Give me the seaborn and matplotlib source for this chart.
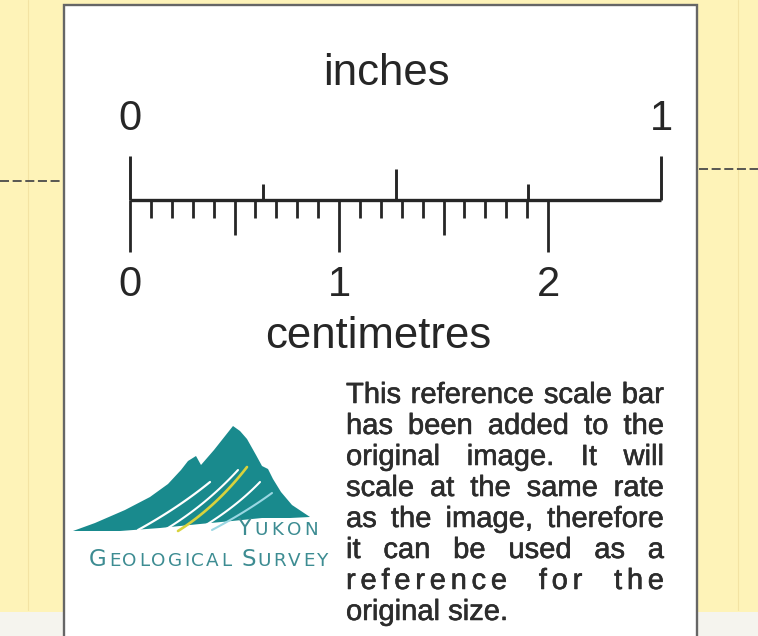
import numpy as np
import pandas as pd
import matplotlib
matplotlib.use("Agg")
import matplotlib.pyplot as plt
import matplotlib.patheffects as pe
import seaborn as sns
from matplotlib.patches import Rectangle, Polygon

# ---------------- data ----------------
CM_PER_INCH = 2.54
INCH_TICKS = [0.0, 0.25, 0.5, 0.75, 1.0]
INCH_LEVELS = ["end", "quarter", "half", "quarter", "end"]
INCH_LABEL_POS = [0, 1]
INCH_LABELS = ["0", "1"]
MM_TICKS = [0.0, 0.1, 0.2, 0.3, 0.4, 0.5, 0.6, 0.7, 0.8, 0.9, 1.0,
            1.1, 1.2, 1.3, 1.4, 1.5, 1.6, 1.7, 1.8, 1.9, 2.0]
CM_LABEL_POS = [0, 1, 2]
CM_LABELS = ["0", "1", "2"]
UNIT_TOP = "inches"
UNIT_BOTTOM = "centimetres"
NOTE_LINES = [
    "This reference scale bar",
    "has been added to the",
    "original image. It will",
    "scale at the same rate",
    "as the image, therefore",
    "it can be used as a",
    "reference for the",
    "original size.",
]
NOTE_MODES = ["word", "word", "word", "word", "word", "word", "char", "last"]
LOGO_LINE1 = "Yukon"
LOGO_LINE2 = "Geological Survey"

# ---------------- style ----------------
W, H = 758, 636
YELLOW = "#FEF3B8"
INK = "#262626"
TEAL = "#198a8d"
TEAL_TXT = "#3d8c92"
UP = {"end": 44, "half": 31, "quarter": 16}


def mm_level(v):
    if abs(v - round(v)) < 1e-6:
        return -52
    if abs(v * 2 - round(v * 2)) < 1e-6:
        return -35
    return -18


sns.set_theme(style="white")
plt.rcParams["font.family"] = ["Liberation Sans", "DejaVu Sans"]

fig = plt.figure(figsize=(W / 100, H / 100), dpi=100)
fig.patch.set_facecolor(YELLOW)
bg = fig.add_axes([0, 0, 1, 1])
bg.set_xlim(0, W)
bg.set_ylim(H, 0)
bg.axis("off")

# paper texture / bottom strip
bg.add_patch(Rectangle((0, 612), W, 40, facecolor="#F5F4EE", edgecolor="none"))
for xx in [28, 738]:
    bg.plot([xx, xx], [0, 610], color="#E6D08A", lw=0.8, alpha=0.45)
# cut marks
bg.plot([0, 62], [181, 181], color="#4a4a4a", lw=1.3, ls=(0, (5, 2)))
bg.plot([699, 758], [169, 169], color="#4a4a4a", lw=1.3, ls=(0, (5, 2)))
# white card
bg.add_patch(Rectangle((64, 5), 633, 660, facecolor="white",
                       edgecolor="#666666", lw=1.7))

# ---------------- scale bar axes (x in cm) ----------------
X0, X1 = 130, 661
ax = fig.add_axes([X0 / W, (H - 260) / H, (X1 - X0) / W, 110 / H])
ax.set_xlim(0, CM_PER_INCH)
ax.set_ylim(-60, 50)
ax.axis("off")

line_df = pd.DataFrame({"cm": [INCH_TICKS[0] * CM_PER_INCH, INCH_TICKS[-1] * CM_PER_INCH],
                        "y": [0, 0]})
sns.lineplot(data=line_df, x="cm", y="y", ax=ax, color=INK, lw=2.4,
             solid_capstyle="butt", clip_on=False)

inch_cm = [t * CM_PER_INCH for t in INCH_TICKS]
ax.vlines(inch_cm, 0, [UP[l] for l in INCH_LEVELS], color=INK, lw=2.1, clip_on=False)
ax.vlines(MM_TICKS, [mm_level(v) for v in MM_TICKS], 0, color=INK, lw=2.0, clip_on=False)

for p, lab in zip(INCH_LABEL_POS, INCH_LABELS):
    ax.text(p * CM_PER_INCH, 70, lab, ha="center", va="baseline", fontsize=30, color=INK)
for p, lab in zip(CM_LABEL_POS, CM_LABELS):
    ax.text(p, -96, lab, ha="center", va="baseline", fontsize=30, color=INK)

bg.text(386, 85, UNIT_TOP, ha="center", va="baseline", fontsize=31.5, color=INK)
bg.text(378, 348, UNIT_BOTTOM, ha="center", va="baseline", fontsize=31.5, color=INK)

# ---------------- helpers ----------------
renderer = fig.canvas.get_renderer()


def twidth(s, **kw):
    t = bg.text(0, 0, s, **kw)
    w = t.get_window_extent(renderer=renderer).width
    t.remove()
    return w


# ---------------- justified note ----------------
NL, NR = 346, 664
FS = 21
NOTE_COLOR = "#2c2c2c"
NOTE_KW = dict(fontsize=FS, color=NOTE_COLOR, va="baseline", ha="left",
               path_effects=[pe.withStroke(linewidth=0.4, foreground=NOTE_COLOR)])
base0, lead = 403, 31
space_w = twidth("a a", fontsize=FS) - 2 * twidth("a", fontsize=FS)
for i, (line, mode) in enumerate(zip(NOTE_LINES, NOTE_MODES)):
    y = base0 + lead * i
    if mode == "last":
        bg.text(NL, y, line, **NOTE_KW)
    elif mode == "word":
        words = line.split(" ")
        ws = [twidth(w_, fontsize=FS) for w_ in words]
        gap = (NR - NL - sum(ws)) / (len(words) - 1)
        x = NL
        for w_, wd in zip(words, ws):
            bg.text(x, y, w_, **NOTE_KW)
            x += wd + gap
    else:  # letter-spaced
        words = line.split(" ")
        chars = []
        for wi, w_ in enumerate(words):
            for ci, c in enumerate(w_):
                chars.append((c, ci == 0 and wi > 0))
        cw = [twidth(c, fontsize=FS) for c, _ in chars]
        nb = sum(1 for _, b in chars if b)
        ng = len(chars) - 1
        g = (NR - NL - sum(cw) - nb * space_w) / (ng + 4 * nb)
        x = NL
        for (c, b), wd in zip(chars, cw):
            if b:
                x += space_w + 4 * g
            bg.text(x, y, c, **NOTE_KW)
            x += wd + g

# ---------------- logo ----------------
upper = [(73, 531), (95, 523), (125, 510), (150, 497), (168, 484), (181, 470),
         (188, 461), (196, 456), (201, 465), (214, 450), (233, 426), (240, 431), (247, 439),
         (256, 455), (262, 466), (268, 469), (273, 479), (281, 492), (292, 505), (310, 517)]
lower = [(290, 518), (262, 518), (232, 521), (200, 524), (160, 528), (120, 531)]
bg.add_patch(Polygon(upper + lower, closed=True, facecolor=TEAL, edgecolor="none"))


def bez(p0, p1, p2, n=30):
    t = np.linspace(0, 1, n)[:, None]
    p0, p1, p2 = map(np.array, (p0, p1, p2))
    return (1 - t) ** 2 * p0 + 2 * (1 - t) * t * p1 + t ** 2 * p2


streaks = [((138, 530), (178, 508), (210, 482), "white", 1.6),
           ((163, 531), (205, 506), (238, 470), "white", 1.5),
           ((178, 531), (216, 507), (247, 467), "#d8d23c", 1.9),
           ((196, 531), (234, 509), (260, 482), "white", 1.5),
           ((212, 530), (246, 512), (272, 493), "#9ad7e3", 1.5)]
for a, b, c, col, lw in streaks:
    pts = bez(a, b, c)
    bg.plot(pts[:, 0], pts[:, 1], color=col, lw=lw, solid_capstyle="round")


def small_caps(text, x0, x1, y, big, small):
    parts = []
    for wi, w_ in enumerate(text.upper().split(" ")):
        if wi > 0:
            parts.append((" ", False))
        for ci, c in enumerate(w_):
            parts.append((c, ci == 0))
    fam = ["DejaVu Sans"]
    ws = []
    for c, b in parts:
        if c == " ":
            ws.append(0.32 * small * 100 / 72)
        else:
            ws.append(twidth(c, fontsize=big if b else small, family=fam))
    g = (x1 - x0 - sum(ws)) / (len(parts) - 1)
    x = x0
    for (c, b), wd in zip(parts, ws):
        if c != " ":
            bg.text(x, y, c, fontsize=big if b else small, family=fam,
                    color=TEAL_TXT, va="baseline", ha="left")
        x += wd + g


small_caps(LOGO_LINE1, 237, 318, 535, 16.5, 13.2)
small_caps(LOGO_LINE2, 89, 328, 566, 16.5, 13.2)

fig.savefig("out.png", dpi=100, facecolor=YELLOW)
